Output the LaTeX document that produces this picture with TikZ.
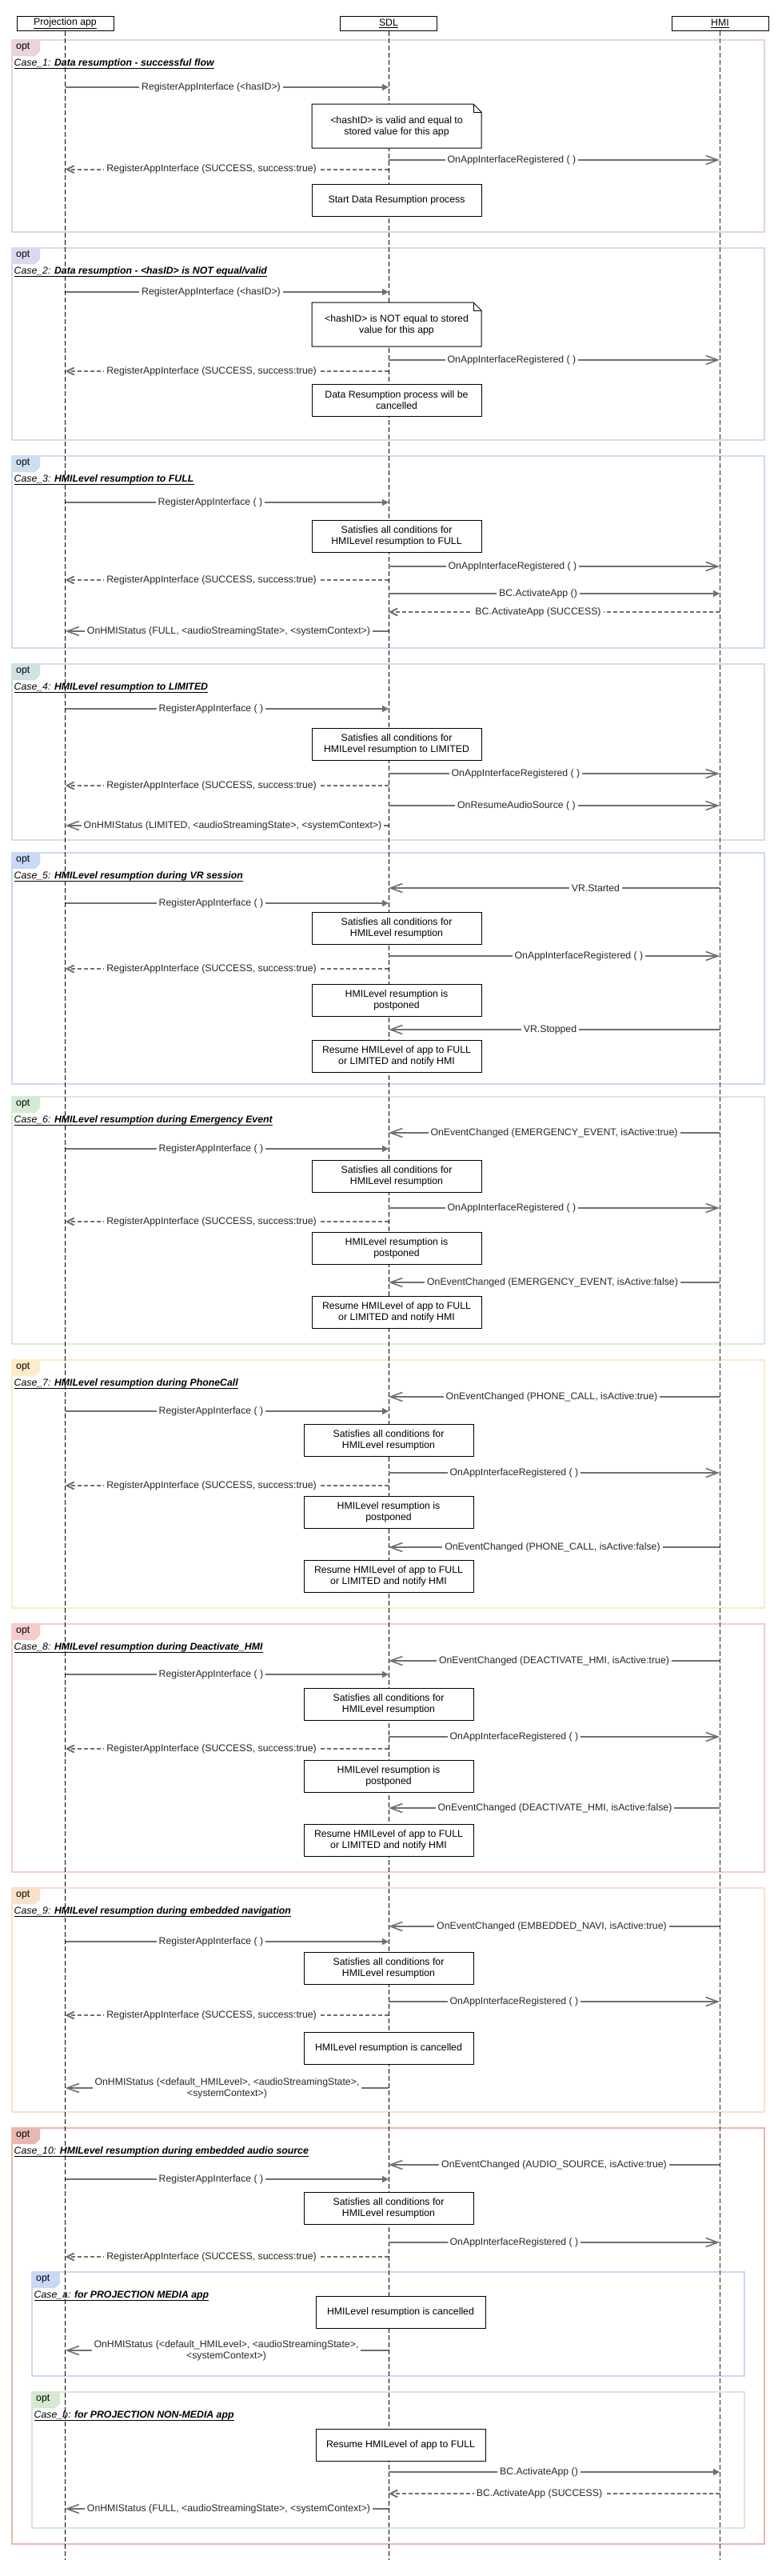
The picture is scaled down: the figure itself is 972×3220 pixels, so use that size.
\documentclass[tikz,border=0pt]{standalone}
\usepackage{fontspec}
\setmainfont{Liberation Sans}
\usetikzlibrary{arrows.meta}
\definecolor{msgc}{RGB}{112,112,112}
\definecolor{txtc}{RGB}{40,40,40}
\definecolor{cA}{RGB}{234,210,222}
\definecolor{cB}{RGB}{218,216,238}
\definecolor{cC}{RGB}{204,222,240}
\definecolor{cD}{RGB}{208,224,228}
\definecolor{cE}{RGB}{200,216,246}
\definecolor{cF}{RGB}{212,234,212}
\definecolor{cG}{RGB}{252,236,200}
\definecolor{cH}{RGB}{244,204,204}
\definecolor{cI}{RGB}{250,224,200}
\definecolor{cJ}{RGB}{232,184,176}
\definecolor{cK}{RGB}{214,234,208}
\tikzset{
  every node/.style={font=\fontsize{12.3}{14}\selectfont},
  hdrbox/.style={draw=black, line width=1pt, fill=white, minimum width=121, minimum height=17.6, inner sep=0},
  lifeline/.style={draw=black, line width=0.9pt, dash pattern=on 6pt off 3pt},
  lifelineh/.style={draw=black!85, line width=0.6pt, dash pattern=on 6pt off 3pt},
  msgline/.style={draw=msgc, line width=1.6pt},
  msgsync/.style={msgline, -{Triangle[length=8pt,width=8pt]}},
  msgasync/.style={msgline, -{Straight Barb[length=15pt,width=11pt,line width=1.6pt]}},
  msgret/.style={msgline, dash pattern=on 5pt off 3pt, -{Straight Barb[length=9pt,width=9pt,line width=2pt]}},
  lbl/.style={fill=white, inner xsep=3pt, inner ysep=1pt, text=txtc, align=center},
  abox/.style={draw=black, line width=1pt, fill=white, minimum width=212, minimum height=40, align=center, inner sep=2pt},
  notebox/.style={draw=black, line width=1pt, fill=white},
}
\newcounter{seqc}
\newcounter{frc}
\newcommand\seqmsg[6]{%
  \stepcounter{seqc}%
  \coordinate (m\theseqc s) at (#2,#4);
  \coordinate (m\theseqc e) at (#3,#4);
  \draw[#1] (m\theseqc s) -- (m\theseqc e);
  \node[lbl] (m\theseqc l) at (#5,#4) {#6};
}
\newcommand\seqframe[7]{%
  \stepcounter{frc}%
  \draw[draw=#1, line width=1.8pt] (#2,#3) rectangle (#4,#5);
  \fill[#1] (#2,#3) -- ++(35,0) -- ++(0,14) -- ++(-6,6) -- ++(-29,0) -- cycle;
  \node[anchor=west, inner sep=0, xshift=5pt, yshift=-9pt] (f\thefrc o) at (#2,#3) {opt};
  \node[anchor=west, inner sep=0, xshift=2.5pt, yshift=-29pt] (f\thefrc t) at (#2,#3) {\itshape #6\bfseries #7};
  \draw[line width=1.1pt] ([yshift=-3.6pt]f\thefrc t.base west) -- ([yshift=-3.6pt]f\thefrc t.base east);
}
\begin{document}
\begin{tikzpicture}[x=1pt,y=-1pt]
\useasboundingbox[fill=white] (0,0) rectangle (972,3220);

% frames
\seqframe{cA}{15}{50}{956}{290}{Case\_1: }{Data resumption - successful flow}
\seqframe{cB}{15}{310}{956}{550}{Case\_2: }{Data resumption - <hasID> is NOT equal/valid}
\seqframe{cC}{15}{570}{956}{810}{Case\_3: }{HMILevel resumption to FULL}
\seqframe{cD}{15}{830}{956}{1050}{Case\_4: }{HMILevel resumption to LIMITED}
\seqframe{cE}{15}{1066}{956}{1355}{Case\_5: }{HMILevel resumption during VR session}
\seqframe{cF}{15}{1371}{956}{1680}{Case\_6: }{HMILevel resumption during Emergency Event}
\seqframe{cG}{15}{1700}{956}{2010}{Case\_7: }{HMILevel resumption during PhoneCall}
\seqframe{cH}{15}{2030}{956}{2340}{Case\_8: }{HMILevel resumption during Deactivate\_HMI}
\seqframe{cI}{15}{2360}{956}{2640}{Case\_9: }{HMILevel resumption during embedded navigation}
\seqframe{cJ}{15}{2660}{956}{3180}{Case\_10: }{HMILevel resumption during embedded audio source}
\seqframe{cE}{40}{2840}{931}{2970}{Case\_a: }{for PROJECTION MEDIA app}
\seqframe{cK}{40}{2990}{931}{3160}{Case\_b: }{for PROJECTION NON-MEDIA app}

% headers and lifelines
\node[hdrbox] (hP) at (81.5,29.5) {\underline{Projection app}};
\node[hdrbox] (hS) at (486,29.5) {\underline{SDL}};
\node[hdrbox] (hH) at (900.5,29.5) {\underline{HMI}};
\coordinate (eP) at (81.5,3200);
\coordinate (eS) at (486,3200);
\coordinate (eH) at (900,3200);
\draw[lifeline] (hP.south) -- (eP);
\draw[lifeline] (hS.south) -- (eS);
\draw[lifelineh] (hH.south -| eH) -- (eH);

% ---------- Case 1
\seqmsg{msgsync}{81.5}{486}{109}{264}{RegisterAppInterface (<hasID>)}
\filldraw[notebox] (390,130) -- (592,130) -- (602,140) -- (602,185) -- (390,185) -- cycle;
\draw[line width=0.8pt] (592,130) -- (592,140) -- (602,140);
\node[align=center, inner sep=0] (n1) at (496,158) {<hashID> is valid and equal to\\stored value for this app};
\seqmsg{msgasync}{486}{900}{200}{640}{OnAppInterfaceRegistered ( )}
\seqmsg{msgret}{486}{81.5}{211.7}{264.6}{RegisterAppInterface (SUCCESS, success:true)}
\node[abox] (b1) at (496,250.3) {Start Data Resumption process};

% ---------- Case 2
\seqmsg{msgsync}{81.5}{486}{365}{264}{RegisterAppInterface (<hasID>)}
\filldraw[notebox] (390,378) -- (592,378) -- (602,388) -- (602,433) -- (390,433) -- cycle;
\draw[line width=0.8pt] (592,378) -- (592,388) -- (602,388);
\node[align=center, inner sep=0] (n2) at (496,406) {<hashID> is NOT equal to stored\\value for this app};
\seqmsg{msgasync}{486}{900}{450}{640}{OnAppInterfaceRegistered ( )}
\seqmsg{msgret}{486}{81.5}{464}{264.6}{RegisterAppInterface (SUCCESS, success:true)}
\node[abox] (b2) at (496,500) {Data Resumption process will be\\cancelled};

% ---------- Case 3
\seqmsg{msgsync}{81.5}{486}{628}{263}{RegisterAppInterface ( )}
\node[abox] (b3) at (496,670) {Satisfies all conditions for\\HMILevel resumption to FULL};
\seqmsg{msgasync}{486}{900}{708}{641}{OnAppInterfaceRegistered ( )}
\seqmsg{msgret}{486}{81.5}{725}{264.6}{RegisterAppInterface (SUCCESS, success:true)}
\seqmsg{msgsync}{486}{900}{742}{673}{BC.ActivateApp ()}
\seqmsg{msgret}{900}{486}{765}{673}{BC.ActivateApp (SUCCESS)}
\seqmsg{msgasync}{486}{81.5}{789}{286}{OnHMIStatus (FULL, <audioStreamingState>, <systemContext>)}

% ---------- Case 4
\seqmsg{msgsync}{81.5}{486}{886}{264}{RegisterAppInterface ( )}
\node[abox] (b4) at (496,930) {Satisfies all conditions for\\HMILevel resumption to LIMITED};
\seqmsg{msgasync}{486}{900}{967}{645}{OnAppInterfaceRegistered ( )}
\seqmsg{msgret}{486}{81.5}{982}{264.6}{RegisterAppInterface (SUCCESS, success:true)}
\seqmsg{msgasync}{486}{900}{1007}{646}{OnResumeAudioSource ( )}
\seqmsg{msgasync}{486}{81.5}{1032}{291}{OnHMIStatus (LIMITED, <audioStreamingState>, <systemContext>)}

% ---------- Case 5
\seqmsg{msgasync}{900}{486}{1110}{745}{VR.Started}
\seqmsg{msgsync}{81.5}{486}{1129}{264}{RegisterAppInterface ( )}
\node[abox] (b5a) at (496,1160) {Satisfies all conditions for\\HMILevel resumption};
\seqmsg{msgasync}{486}{900}{1195}{724}{OnAppInterfaceRegistered ( )}
\seqmsg{msgret}{486}{81.5}{1211}{264.6}{RegisterAppInterface (SUCCESS, success:true)}
\node[abox] (b5b) at (496,1250) {HMILevel resumption is\\postponed};
\seqmsg{msgasync}{900}{486}{1287}{688}{VR.Stopped}
\node[abox] (b5c) at (496,1320) {Resume HMILevel of app to FULL\\or LIMITED and notify HMI};

% ---------- Case 6
\seqmsg{msgasync}{900}{486}{1416}{693}{OnEventChanged (EMERGENCY\_EVENT, isActive:true)}
\seqmsg{msgsync}{81.5}{486}{1436}{264}{RegisterAppInterface ( )}
\node[abox] (b6a) at (496,1470) {Satisfies all conditions for\\HMILevel resumption};
\seqmsg{msgasync}{486}{900}{1510}{640}{OnAppInterfaceRegistered ( )}
\seqmsg{msgret}{486}{81.5}{1527}{264.6}{RegisterAppInterface (SUCCESS, success:true)}
\node[abox] (b6b) at (496,1560) {HMILevel resumption is\\postponed};
\seqmsg{msgasync}{900}{486}{1603}{691}{OnEventChanged (EMERGENCY\_EVENT, isActive:false)}
\node[abox] (b6c) at (496,1640) {Resume HMILevel of app to FULL\\or LIMITED and notify HMI};

% ---------- Case 7
\seqmsg{msgasync}{900}{486}{1746}{690}{OnEventChanged (PHONE\_CALL, isActive:true)}
\seqmsg{msgsync}{81.5}{486}{1764}{264}{RegisterAppInterface ( )}
\node[abox] (b7a) at (486,1800) {Satisfies all conditions for\\HMILevel resumption};
\seqmsg{msgasync}{486}{900}{1841}{643}{OnAppInterfaceRegistered ( )}
\seqmsg{msgret}{486}{81.5}{1857}{264.6}{RegisterAppInterface (SUCCESS, success:true)}
\node[abox] (b7b) at (486,1890) {HMILevel resumption is\\postponed};
\seqmsg{msgasync}{900}{486}{1934}{691}{OnEventChanged (PHONE\_CALL, isActive:false)}
\node[abox] (b7c) at (486,1970) {Resume HMILevel of app to FULL\\or LIMITED and notify HMI};

% ---------- Case 8
\seqmsg{msgasync}{900}{486}{2076}{693}{OnEventChanged (DEACTIVATE\_HMI, isActive:true)}
\seqmsg{msgsync}{81.5}{486}{2093}{264}{RegisterAppInterface ( )}
\node[abox] (b8a) at (486,2130) {Satisfies all conditions for\\HMILevel resumption};
\seqmsg{msgasync}{486}{900}{2171}{643}{OnAppInterfaceRegistered ( )}
\seqmsg{msgret}{486}{81.5}{2186}{264.6}{RegisterAppInterface (SUCCESS, success:true)}
\node[abox] (b8b) at (486,2220) {HMILevel resumption is\\postponed};
\seqmsg{msgasync}{900}{486}{2260}{694}{OnEventChanged (DEACTIVATE\_HMI, isActive:false)}
\node[abox] (b8c) at (486,2300) {Resume HMILevel of app to FULL\\or LIMITED and notify HMI};

% ---------- Case 9
\seqmsg{msgasync}{900}{486}{2408}{690}{OnEventChanged (EMBEDDED\_NAVI, isActive:true)}
\seqmsg{msgsync}{81.5}{486}{2427}{264}{RegisterAppInterface ( )}
\node[abox] (b9a) at (486,2460) {Satisfies all conditions for\\HMILevel resumption};
\seqmsg{msgasync}{486}{900}{2502}{643}{OnAppInterfaceRegistered ( )}
\seqmsg{msgret}{486}{81.5}{2519}{264.6}{RegisterAppInterface (SUCCESS, success:true)}
\node[abox] (b9b) at (486,2560) {HMILevel resumption is cancelled};
\seqmsg{msgasync}{486}{81.5}{2610}{284}{OnHMIStatus (<default\_HMILevel>, <audioStreamingState>,\\<systemContext>)}

% ---------- Case 10
\seqmsg{msgasync}{900}{486}{2706}{693}{OnEventChanged (AUDIO\_SOURCE, isActive:true)}
\seqmsg{msgsync}{81.5}{486}{2724}{264}{RegisterAppInterface ( )}
\node[abox] (b10a) at (486,2760) {Satisfies all conditions for\\HMILevel resumption};
\seqmsg{msgasync}{486}{900}{2803}{643}{OnAppInterfaceRegistered ( )}
\seqmsg{msgret}{486}{81.5}{2821}{264.6}{RegisterAppInterface (SUCCESS, success:true)}
\node[abox] (b10b) at (501,2890) {HMILevel resumption is cancelled};
\seqmsg{msgasync}{486}{81.5}{2938}{283}{OnHMIStatus (<default\_HMILevel>, <audioStreamingState>,\\<systemContext>)}
\node[abox] (b10c) at (501,3056) {Resume HMILevel of app to FULL};
\seqmsg{msgsync}{486}{900}{3090}{674}{BC.ActivateApp ()}
\seqmsg{msgret}{900}{486}{3117}{674.6}{BC.ActivateApp (SUCCESS)}
\seqmsg{msgasync}{486}{81.5}{3136}{286}{OnHMIStatus (FULL, <audioStreamingState>, <systemContext>)}
\end{tikzpicture}
\end{document}
